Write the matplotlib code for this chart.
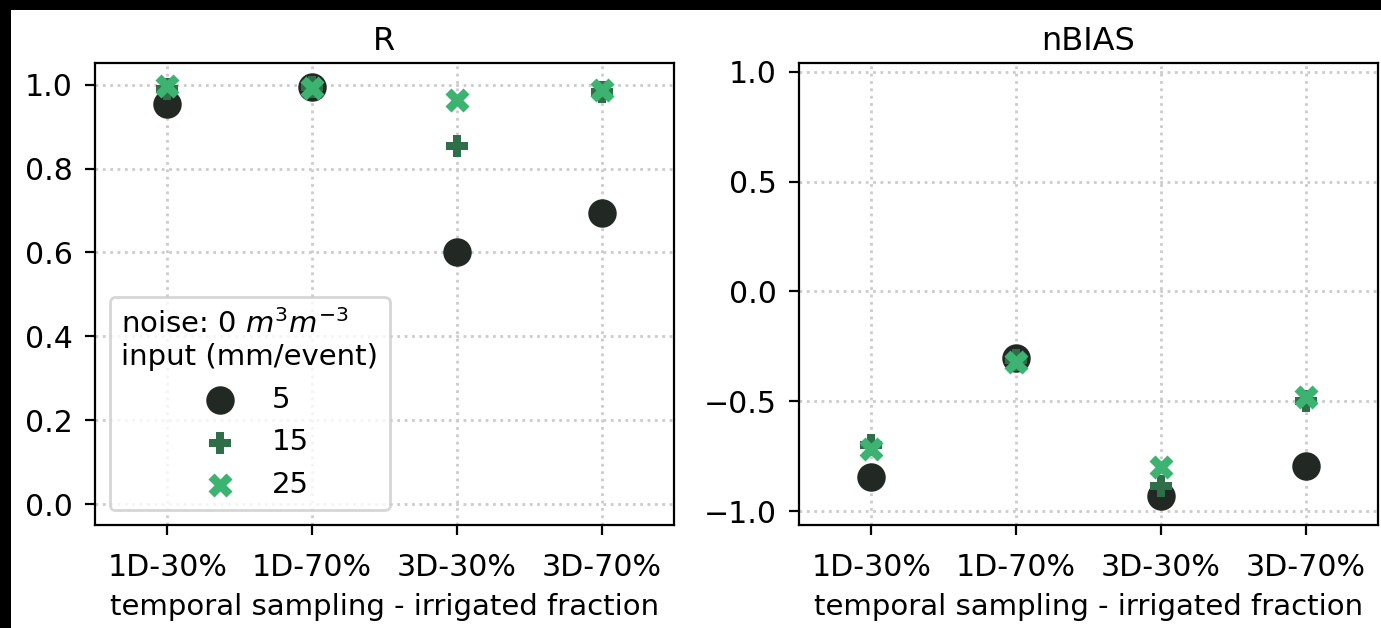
import matplotlib
matplotlib.use("Agg")
import matplotlib.pyplot as plt
from matplotlib.patches import Rectangle

categories = ["1D-30%", "1D-70%", "3D-30%", "3D-70%"]
inputs = ["5", "15", "25"]

R_5 = [0.955, 0.995, 0.600, 0.694]
R_15 = [0.990, 0.995, 0.853, 0.984]
R_25 = [0.996, 0.993, 0.963, 0.988]

nBIAS_5 = [-0.845, -0.305, -0.930, -0.795]
nBIAS_15 = [-0.700, -0.312, -0.885, -0.500]
nBIAS_25 = [-0.717, -0.322, -0.800, -0.480]

colors = ["#222823", "#2e6e48", "#3cb371"]
markers = ["o", "P", "X"]
sizes = [105, 60, 75]

FS = 10.5
plt.rcParams["font.family"] = ["DejaVu Sans"]
plt.rcParams["font.size"] = FS

fig = plt.figure(figsize=(1381 / 200, 628 / 200), dpi=200, facecolor="black")
fig.patches.append(Rectangle((11 / 1381, 0), 1 - 11 / 1381, 1 - 10 / 628,
                             transform=fig.transFigure, facecolor="white",
                             edgecolor="none", zorder=-10))

ax1 = fig.add_axes([95 / 1381, 103 / 628, 579 / 1381, 462 / 628])
ax2 = fig.add_axes([799 / 1381, 103 / 628, 579 / 1381, 462 / 628])

x = list(range(len(categories)))
for ax, series, title in [(ax1, [R_5, R_15, R_25], "R"),
                          (ax2, [nBIAS_5, nBIAS_15, nBIAS_25], "nBIAS")]:
    for vals, c, m, s, lab in zip(series, colors, markers, sizes, inputs):
        ax.scatter(x, vals, c=c, marker=m, s=s, linewidths=0, label=lab, zorder=3)
    ax.set_xticks(x)
    ax.set_xticklabels(categories)
    ax.set_xlim(-0.5, 3.5)
    ax.tick_params(axis="x", pad=6.5, labelsize=10.8)
    ax.tick_params(axis="y", pad=4.5, labelsize=10.8)
    ax.grid(True, linestyle=":", color="#cccccc", linewidth=1.0)
    ax.set_axisbelow(True)
    ax.set_title(title, fontsize=FS + 1.0, pad=4.5)
    ax.set_xlabel("temporal sampling - irrigated fraction")

ax1.set_ylim(-0.05, 1.052)
ax1.set_yticks([0.0, 0.2, 0.4, 0.6, 0.8, 1.0])
ax2.set_ylim(-1.063, 1.04)
ax2.set_yticks([-1.0, -0.5, 0.0, 0.5, 1.0])

leg = ax1.legend(title="noise: 0 $m^3m^{-3}$\ninput (mm/event)", loc="lower left",
                 fontsize=FS, title_fontsize=FS)
leg.get_frame().set_edgecolor("#cccccc")

fig.savefig("out.png", dpi=200, facecolor=fig.get_facecolor())
